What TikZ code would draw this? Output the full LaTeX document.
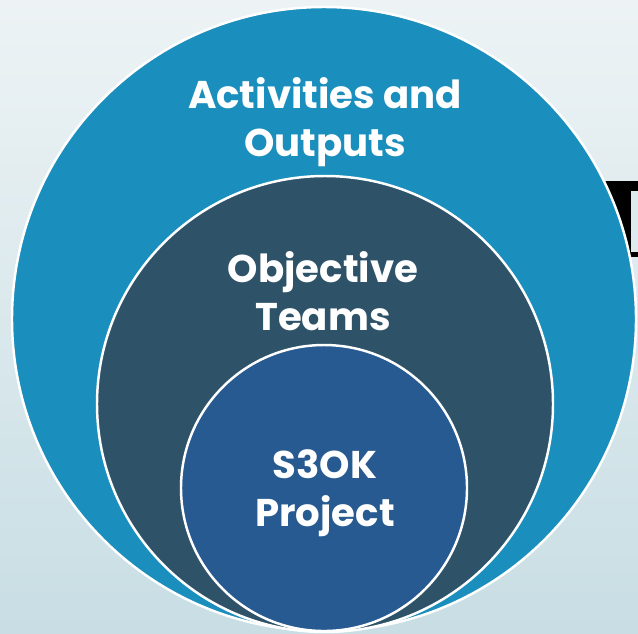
\documentclass[tikz,border=0pt]{standalone}
\usepackage{fontspec}
\setmainfont{Poppins}
\usepackage{xcolor}
\usetikzlibrary{positioning}

\definecolor{bgtop}{HTML}{EDF3F5}
\definecolor{bgbot}{HTML}{C8DEE4}
\definecolor{outerblue}{HTML}{1A8EBC}
\definecolor{midslate}{HTML}{2E5369}
\definecolor{innerblue}{HTML}{265A91}

\begin{document}
\begin{tikzpicture}[x=0.02cm,y=-0.02cm,
	ring/.style={circle,draw=white,line width=1.4pt,inner sep=0pt},
	label/.style={text=white,font=\fontsize{22}{27}\selectfont\bfseries,align=center}]
				% Sfondo
				\useasboundingbox (0,0) rectangle (638,633);
				\shade[top color=bgtop,bottom color=bgbot] (0,0) rectangle (638,633);
				
				% Cornice nascosta a destra
				\fill[black] (596,181) rectangle (638,257);
				\fill[bgtop!60!bgbot] (631,191) rectangle (638,252);
				
				% Cerchi
				\node[ring,fill=outerblue,minimum size=624*0.02cm] (outer) at (324,319) {};
				\node[ring,fill=midslate,minimum size=456*0.02cm] (mid) at (325,404) {};
				\node[ring,fill=innerblue,minimum size=286*0.02cm] (inner) at (324,488) {};
				
				% Testi
				\node[label] (act) at (325,122) {Activities and\\Outputs};
				\node[label] (obj) at (323,291) {Objective\\Teams};
				\node[label] (proj) at (325,493) {S3OK\\Project};
				
			\end{tikzpicture}
\end{document}
